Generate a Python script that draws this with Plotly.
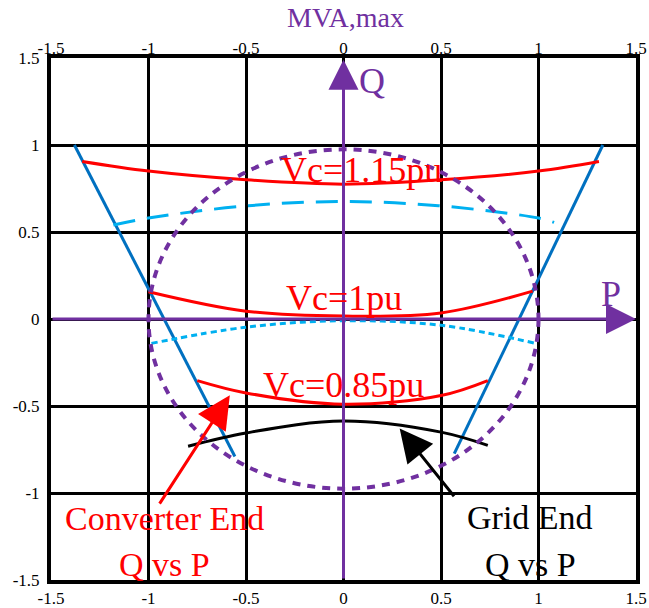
import plotly.graph_objects as go

# ---- data (P in pu along x, Q in pu along y) ----
tick_vals = [-1.5, -1.0, -0.5, 0.0, 0.5, 1.0, 1.5]
tick_text = ["-1.5", "-1", "-0.5", "0", "0.5", "1", "1.5"]

p_vc115 = [-1.34, -1.0, -0.5, 0.0, 0.5, 1.0, 1.31]
q_vc115 = [0.905, 0.85, 0.80, 0.775, 0.80, 0.85, 0.905]

p_grid115 = [-1.18, -1.0, -0.5, 0.0, 0.5, 1.0, 1.08]
q_grid115 = [0.54, 0.58, 0.65, 0.675, 0.65, 0.58, 0.555]

p_vc100 = [-1.0, -0.5, 0.0, 0.5, 0.97]
q_vc100 = [0.157, 0.045, 0.017, 0.035, 0.16]

p_grid100 = [-0.985, -0.5, 0.0, 0.5, 0.985]
q_grid100 = [-0.14, -0.047, -0.01, -0.036, -0.14]

p_vc085 = [-0.75, -0.5, 0.0, 0.5, 0.74]
q_vc085 = [-0.354, -0.425, -0.49, -0.44, -0.354]

p_grid085 = [-0.797, -0.5, 0.0, 0.5, 0.74]
q_grid085 = [-0.731, -0.655, -0.586, -0.65, -0.726]

p_lim_left = [-1.38, -0.557]
q_lim_left = [1.0, -0.79]
p_lim_right = [0.568, 1.33]
q_lim_right = [-0.774, 1.0]

mva_radius_p = 1.0
mva_radius_q = 0.975

RED = "#FF0000"
BLUE = "#0070C0"
CYAN = "#00B0F0"
PURPLE = "#7030A0"
SERIF = "Liberation Serif"

fig = go.Figure()

def curve(p, q, color, dash="solid", width=3, shape="spline"):
    fig.add_trace(go.Scatter(x=p, y=q, mode="lines",
                             line=dict(color=color, width=width, dash=dash, shape=shape),
                             hoverinfo="skip", showlegend=False))

# converter-limit lines
curve(p_lim_left, q_lim_left, BLUE, shape="linear")
curve(p_lim_right, q_lim_right, BLUE, shape="linear")

# converter end (red) and grid end (cyan / black) curves
curve(p_vc115, q_vc115, RED)
curve(p_grid115, q_grid115, CYAN, dash="22px,12px")
curve(p_vc100, q_vc100, RED)
curve(p_grid100, q_grid100, CYAN, dash="6px,4px")
curve(p_vc085, q_vc085, RED)
curve(p_grid085, q_grid085, "black")

# invisible trace so the top axis is drawn
fig.add_trace(go.Scatter(x=[0], y=[0], xaxis="x2", mode="markers",
                         marker=dict(opacity=0), hoverinfo="skip", showlegend=False))

# MVA circle
fig.add_shape(type="circle", xref="x", yref="y",
              x0=-mva_radius_p, x1=mva_radius_p, y0=-mva_radius_q, y1=mva_radius_q,
              line=dict(color=PURPLE, width=4, dash="8px,7px"))

axis_common = dict(range=[-1.5, 1.5], tickvals=tick_vals, ticktext=tick_text,
                   ticks="", zeroline=False, automargin=False,
                   tickfont=dict(family=SERIF, size=17, color="black"))

fig.update_layout(
    width=649, height=608,
    margin=dict(l=51, r=13, t=58, b=28),
    paper_bgcolor="white", plot_bgcolor="white",
    xaxis=dict(**axis_common, showgrid=True, gridcolor="black", gridwidth=3,
               showline=True, linecolor="black", linewidth=4, mirror=True,
               ticklabelstandoff=0),
    xaxis2=dict(**axis_common, overlaying="x", side="top", anchor="y",
                showgrid=False, showline=False, ticklabelstandoff=0),
    yaxis=dict(**axis_common, showgrid=True, gridcolor="black", gridwidth=3,
               showline=True, linecolor="black", linewidth=4, mirror=True,
               ticklabelstandoff=4),
)

annotations = []

# purple P / Q axes with arrowheads
annotations.append(dict(x=0, y=1.49, ax=0, ay=-1.5, xref="x", yref="y", axref="x", ayref="y",
                        text="", showarrow=True, arrowhead=2, arrowsize=2.0,
                        arrowwidth=3, arrowcolor=PURPLE))
annotations.append(dict(x=1.5, y=0, ax=-1.5, ay=0, xref="x", yref="y", axref="x", ayref="y",
                        text="", showarrow=True, arrowhead=2, arrowsize=2.0,
                        arrowwidth=3, arrowcolor=PURPLE))

# pointer arrows
annotations.append(dict(x=-0.583, y=-0.4375, ax=-0.948, ay=-1.07, xref="x", yref="y",
                        axref="x", ayref="y", text="", showarrow=True, arrowhead=2,
                        arrowsize=2.2, arrowwidth=3, arrowcolor=RED))
annotations.append(dict(x=0.288, y=-0.629, ax=0.573, ay=-1.027, xref="x", yref="y",
                        axref="x", ayref="y", text="", showarrow=True, arrowhead=2,
                        arrowsize=2.2, arrowwidth=3, arrowcolor="black"))

def label(x, y, text, color, size, xref="x", yref="y"):
    annotations.append(dict(x=x, y=y, xref=xref, yref=yref, text=text, showarrow=False,
                            xanchor="center", yanchor="middle",
                            font=dict(family=SERIF, size=size, color=color)))

label(0.09, 0.856, "Vc=1.15pu", RED, 36)
label(0.0, 0.118, "Vc=1pu", RED, 36)
label(0.0, -0.38, "Vc=0.85pu", RED, 36)
label(-0.92, -1.144, "Converter End", RED, 34)
label(-0.92, -1.41, "Q vs P", RED, 34)
label(0.958, -1.14, "Grid End", "black", 34)
label(0.96, -1.41, "Q vs P", "black", 34)
label(0.144, 1.37, "Q", PURPLE, 36)
label(1.37, 0.146, "P", PURPLE, 36)
label(0.504, 1.0785, "MVA,max", PURPLE, 28, xref="paper", yref="paper")

fig.update_layout(annotations=annotations)

fig.write_html("out.html")
